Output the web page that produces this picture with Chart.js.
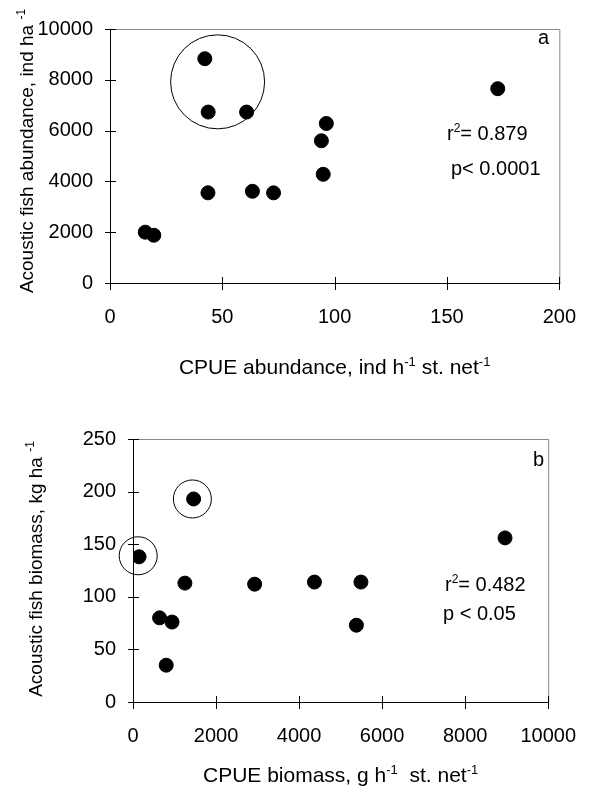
<!DOCTYPE html>
<html>
<head>
<meta charset="utf-8">
<script src="https://cdn.jsdelivr.net/npm/chart.js@4.4.0/dist/chart.umd.min.js"></script>
<style>
  html, body { margin: 0; padding: 0; background: #fff; }
  .panel { position: absolute; left: 0; width: 598px; height: 394px; }
  #panelA { top: 0; }
  #panelB { top: 394px; }
</style>
</head>
<body>
<div class="panel" id="panelA"><canvas id="chartA" width="598" height="394"></canvas></div>
<div class="panel" id="panelB"><canvas id="chartB" width="598" height="394"></canvas></div>
<script>
"use strict";

// panel a : abundance
const cpueAbundance = [15.7, 19.5, 42.2, 43.7, 60.8, 43.6, 63.4, 72.8, 96.3, 94.1, 94.9, 172.6];
const acousticAbundance = [2000, 1880, 8830, 6730, 6730, 3550, 3610, 3550, 6280, 5600, 4280, 7650];
const circleAX = [47.9];
const circleAY = [7920];
const xTicksA = [0, 50, 100, 150, 200];
const yTicksA = [0, 2000, 4000, 6000, 8000, 10000];

// panel b : biomass
const cpueBiomass = [1460, 146, 1250, 2930, 640, 940, 800, 8960, 4370, 5490, 5380];
const acousticBiomass = [193, 138, 113, 112, 80, 76, 35, 156, 114, 114, 73];
const circleBX = [1430, 125];
const circleBY = [193, 139];
const xTicksB = [0, 2000, 4000, 6000, 8000, 10000];
const yTicksB = [0, 50, 100, 150, 200, 250];

const FONT = '"Liberation Sans", Arial, sans-serif';

function toPoints(xs, ys) {
    let pts = [];
    for (let i = 0; i < xs.length; i++) {
        pts.push({ x: xs[i], y: ys[i] });
    }
    return pts;
}

// draws text with superscript parts, x,y = start/centre and baseline
function drawRich(ctx, parts, x, y, size, align) {
    let total = 0;
    for (const p of parts) {
        ctx.font = (p.sup ? Math.round(size * 0.62) : size) + 'px ' + FONT;
        p.w = ctx.measureText(p.t).width;
        total += p.w;
    }
    let cx = align === 'center' ? x - total / 2 : x;
    ctx.textAlign = 'left';
    ctx.textBaseline = 'alphabetic';
    ctx.fillStyle = '#000';
    for (const p of parts) {
        ctx.font = (p.sup ? Math.round(size * 0.62) : size) + 'px ' + FONT;
        ctx.fillText(p.t, cx, p.sup ? y - size * 0.4 : y);
        cx += p.w;
    }
}

const decor = {
    id: 'decor',
    afterDraw(chart, args, opts) {
        const ctx = chart.ctx;
        const a = chart.chartArea;
        ctx.save();
        // grey top / right frame
        ctx.strokeStyle = '#888';
        ctx.lineWidth = 1;
        ctx.beginPath();
        ctx.moveTo(a.left, a.top + 0.5);
        ctx.lineTo(a.right + 0.5, a.top + 0.5);
        ctx.lineTo(a.right + 0.5, a.bottom);
        ctx.stroke();
        // black axes
        ctx.strokeStyle = '#000';
        ctx.beginPath();
        ctx.moveTo(a.left + 0.5, a.top);
        ctx.lineTo(a.left + 0.5, a.bottom + 0.5);
        ctx.lineTo(a.right + 1, a.bottom + 0.5);
        ctx.stroke();
        // crossing tick marks
        const xs = chart.scales.x;
        const ys = chart.scales.y;
        ctx.beginPath();
        for (const t of xs.ticks) {
            const px = Math.round(xs.getPixelForValue(t.value)) + 0.5;
            ctx.moveTo(px, a.bottom - 6);
            ctx.lineTo(px, a.bottom + 7);
        }
        for (const t of ys.ticks) {
            const py = Math.round(ys.getPixelForValue(t.value)) + 0.5;
            ctx.moveTo(a.left - 5, py);
            ctx.lineTo(a.left + 6, py);
        }
        ctx.stroke();
        // axis titles
        drawRich(ctx, opts.xTitle, (a.left + a.right) / 2, opts.xTitleY, 21, 'center');
        ctx.save();
        ctx.translate(opts.yTitleX, opts.yTitleY);
        ctx.rotate(-Math.PI / 2);
        drawRich(ctx, opts.yTitle, 0, 0, 19, 'center');
        ctx.restore();
        // annotations
        for (const n of opts.notes) {
            drawRich(ctx, n.parts, n.x, n.y, 20, 'left');
        }
        ctx.restore();
    }
};

function makeChart(id, cfg) {
    const ctx = document.getElementById(id).getContext('2d');
    return new Chart(ctx, {
        type: 'scatter',
        data: {
            datasets: [{
                label: 'points',
                data: toPoints(cfg.xData, cfg.yData),
                backgroundColor: '#000',
                borderColor: '#000',
                pointRadius: 7,
                pointHoverRadius: 7
            }, {
                label: 'circles',
                data: toPoints(cfg.cx, cfg.cy),
                backgroundColor: 'rgba(0,0,0,0)',
                borderColor: '#000',
                borderWidth: 1,
                pointRadius: cfg.circleR,
                pointHoverRadius: cfg.circleR,
                clip: false
            }]
        },
        options: {
            responsive: false,
            animation: false,
            events: [],
            layout: { padding: cfg.padding, autoPadding: false },
            plugins: {
                legend: { display: false },
                tooltip: { enabled: false },
                decor: cfg.decor
            },
            scales: {
                x: {
                    type: 'linear',
                    min: cfg.xTicks[0],
                    max: cfg.xTicks[cfg.xTicks.length - 1],
                    afterBuildTicks: s => { s.ticks = cfg.xTicks.map(v => ({ value: v })); },
                    afterFit: s => { s.height = cfg.xHeight; },
                    grid: { display: false, drawTicks: false },
                    border: { display: false },
                    ticks: {
                        padding: 22,
                        maxRotation: 0,
                        color: '#000',
                        font: { family: FONT, size: 20 },
                        callback: v => String(v)
                    }
                },
                y: {
                    type: 'linear',
                    min: cfg.yTicks[0],
                    max: cfg.yTicks[cfg.yTicks.length - 1],
                    afterBuildTicks: s => { s.ticks = cfg.yTicks.map(v => ({ value: v })); },
                    afterFit: s => { s.width = cfg.yWidth; },
                    grid: { display: false, drawTicks: false },
                    border: { display: false },
                    ticks: {
                        padding: 17,
                        color: '#000',
                        font: { family: FONT, size: 20 },
                        callback: v => String(v)
                    }
                }
            }
        },
        plugins: [decor]
    });
}

makeChart('chartA', {
    xData: cpueAbundance, yData: acousticAbundance,
    cx: circleAX, cy: circleAY, circleR: [47],
    xTicks: xTicksA, yTicks: yTicksA,
    padding: { left: 0, right: 33, top: 19, bottom: 0 },
    yWidth: 110, xHeight: 111,
    decor: {
        xTitle: [{ t: 'CPUE abundance, ind h' }, { t: '-1', sup: true }, { t: ' st. net' }, { t: '-1', sup: true }],
        xTitleY: 374,
        yTitle: [{ t: 'Acoustic fish abundance, ind ha ' }, { t: '-1', sup: true }],
        yTitleX: 33, yTitleY: 151,
        notes: [
            { parts: [{ t: 'a' }], x: 538, y: 44 },
            { parts: [{ t: 'r' }, { t: '2', sup: true }, { t: '= 0.879' }], x: 447, y: 140 },
            { parts: [{ t: 'p< 0.0001' }], x: 451, y: 175 }
        ]
    }
});

makeChart('chartB', {
    xData: cpueBiomass, yData: acousticBiomass,
    cx: circleBX, cy: circleBY, circleR: [19, 19],
    xTicks: xTicksB, yTicks: yTicksB,
    padding: { left: 0, right: 34, top: 45, bottom: 0 },
    yWidth: 133, xHeight: 86,
    decor: {
        xTitle: [{ t: 'CPUE biomass, g h' }, { t: '-1', sup: true }, { t: '  st. net' }, { t: '-1', sup: true }],
        xTitleY: 388,
        yTitle: [{ t: 'Acoustic fish biomass, kg ha ' }, { t: '-1', sup: true }],
        yTitleX: 42, yTitleY: 175,
        notes: [
            { parts: [{ t: 'b' }], x: 533, y: 72 },
            { parts: [{ t: 'r' }, { t: '2', sup: true }, { t: '= 0.482' }], x: 445, y: 197 },
            { parts: [{ t: 'p < 0.05' }], x: 443, y: 226 }
        ]
    }
});
</script>
</body>
</html>
